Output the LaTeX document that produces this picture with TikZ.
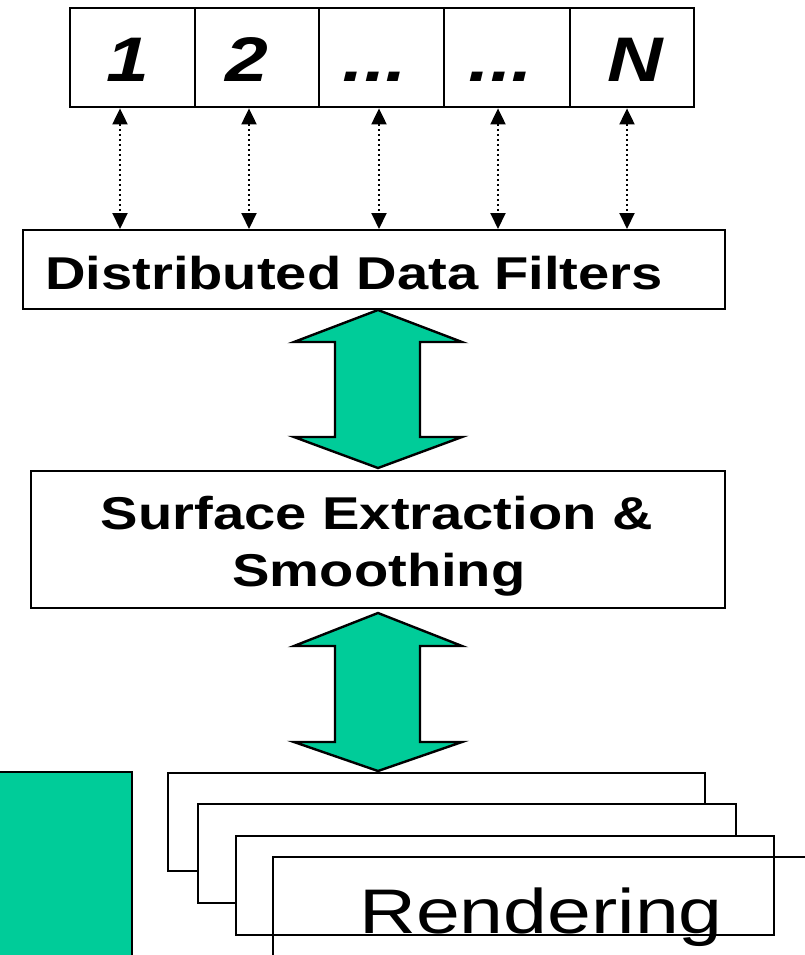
\documentclass[tikz,border=0pt]{standalone}
\usepackage{fontspec}
\setmainfont{Liberation Sans}
\usepackage{graphicx}
\usetikzlibrary{arrows.meta}
\definecolor{sea}{HTML}{00CC99}
\newcommand{\wide}[1]{\scalebox{1.22}[1]{#1}}
\tikzset{
  cell/.style={draw, line width=2.4pt, minimum height=99pt, inner sep=0pt, anchor=north west},
  frame/.style={draw, line width=2.4pt, inner sep=0pt, anchor=north west, fill=white},
  link/.style={line width=2pt, dash pattern=on 2pt off 3pt,
    {Triangle[length=16pt,width=15pt]}-{Triangle[length=16pt,width=15pt]}},
  fat/.style={draw, line width=2.4pt, fill=sea, line join=miter},
  num/.style={font=\fontsize{63}{63}\selectfont\bfseries\itshape, anchor=base, inner sep=0pt},
  big/.style={font=\fontsize{46}{57}\selectfont\bfseries, inner sep=0pt},
}
\begin{document}
\begin{tikzpicture}[x=1pt,y=-1pt]
\useasboundingbox (0,0) rectangle (804,955);

% row of data blocks
\node[cell, minimum width=125pt] (b1) at (69,7) {};
\node[cell, minimum width=124pt] (b2) at (194,7) {};
\node[cell, minimum width=125pt] (b3) at (318,7) {};
\node[cell, minimum width=126pt] (b4) at (443,7) {};
\node[cell, minimum width=124pt] (b5) at (569,7) {};
\node[num] (t1) at (128,82) {\wide{1}};
\node[num] (t2) at (247,82) {\wide{2}};
\node[num] (t3) at (375,82) {\wide{...}};
\node[num] (t4) at (501,82) {\wide{...}};
\node[num] (t5) at (635,82) {\wide{N}};

% filter layer
\node[frame, minimum width=702pt, minimum height=79pt] (ddf) at (22,229) {};
\node[big, anchor=base west] (ddft) at (45,289) {\wide{Distributed Data Filters}};

% dotted links between blocks and filters
\draw[link] (b1.south -| 120,0) -- (ddf.north -| 120,0);
\draw[link] (b2.south -| 249,0) -- (ddf.north -| 249,0);
\draw[link] (b3.south -| 379,0) -- (ddf.north -| 379,0);
\draw[link] (b4.south -| 498,0) -- (ddf.north -| 498,0);
\draw[link] (b5.south -| 627,0) -- (ddf.north -| 627,0);

% surface extraction
\node[frame, minimum width=694pt, minimum height=137pt] (surf) at (30,470) {};
\node[big, anchor=base] (s1) at (377,529) {\wide{Surface Extraction \&}};
\node[big, anchor=base] (s2) at (379,586) {\wide{Smoothing}};

% wide double arrows
\draw[fat] (378,310) -- (462,342) -- (420,342) -- (420,437) -- (462,437)
  -- (378,468) -- (294,437) -- (335,437) -- (335,342) -- (294,342) -- cycle;
\draw[fat] (378,613) -- (462,646) -- (420,646) -- (420,742) -- (462,742)
  -- (378,771) -- (294,742) -- (335,742) -- (335,646) -- (294,646) -- cycle;

% green block at the left
\fill[sea] (0,772) rectangle (132,956);
\draw[line width=2.4pt] (0,772) -- (132,772) -- (132,956);

% stacked rendering frames
\node[frame, minimum width=537pt, minimum height=98pt] (r1) at (167,772) {};
\node[frame, minimum width=538pt, minimum height=99pt] (r2) at (197,803) {};
\node[frame, minimum width=538pt, minimum height=99pt] (r3) at (235,835) {};
\draw[line width=2.4pt] (273,960) -- (273,857) -- (806,857);
\node[font=\fontsize{63}{63}\selectfont, anchor=base, inner sep=0pt] (rt) at (541,933) {\scalebox{1.25}[1]{Rendering}};
\end{tikzpicture}
\end{document}
